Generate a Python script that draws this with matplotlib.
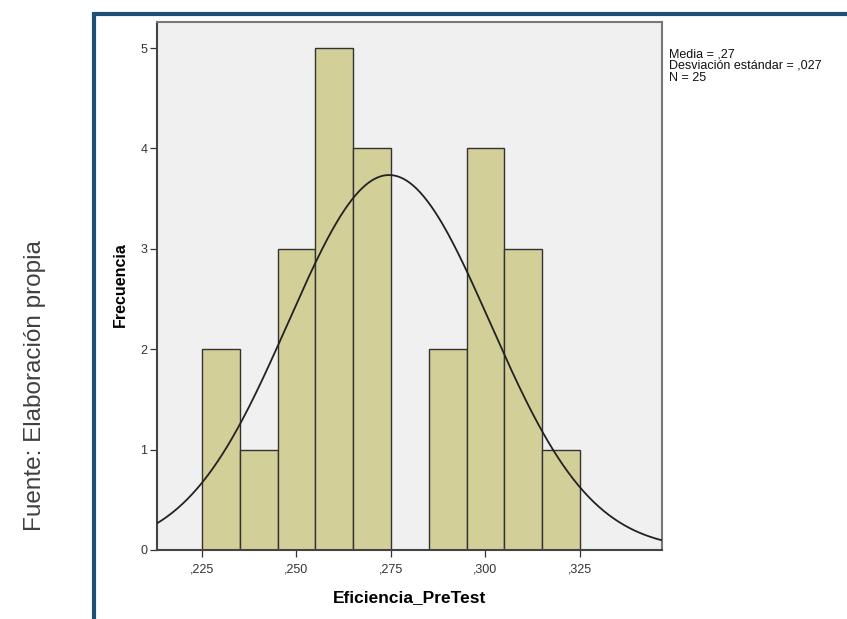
import numpy as np
import matplotlib
matplotlib.use("Agg")
import matplotlib.pyplot as plt
from matplotlib.lines import Line2D
from matplotlib.ticker import FuncFormatter

plt.rcParams['font.family'] = ['Liberation Sans', 'DejaVu Sans']

# histogram data (bin width 0.01)
bin_left = [0.225, 0.235, 0.245, 0.255, 0.265, 0.275, 0.285, 0.295, 0.305, 0.315]
counts = [2, 1, 3, 5, 4, 0, 2, 4, 3, 1]
bin_width = 0.01
x_ticks = [0.225, 0.250, 0.275, 0.300, 0.325]
y_ticks = [0, 1, 2, 3, 4, 5]

# summary of the sample, used for the normal curve
media = 0.2745
desv = 0.0267
n = 25

fig = plt.figure(figsize=(8.47, 6.19), dpi=100)
W, H = 847, 619
ax = fig.add_axes([157 / W, 1 - 550 / H, (662 - 157) / W, (550 - 22) / H])
ax.set_facecolor('#F0F0F0')

ax.bar(bin_left, counts, width=bin_width, align='edge', color='#D3CF98',
       edgecolor='#333333', linewidth=1.0, zorder=2)

xs = np.linspace(0.2131, 0.3467, 400)
ys = n * bin_width / (desv * np.sqrt(2 * np.pi)) * np.exp(-0.5 * ((xs - media) / desv) ** 2)
ax.plot(xs, ys, color='#222222', linewidth=1.3, zorder=3)

ax.set_xlim(0.2131, 0.3467)
ax.set_ylim(0, 5.26)
ax.set_xticks(x_ticks)
ax.set_yticks(y_ticks)
ax.xaxis.set_major_formatter(FuncFormatter(lambda v, p: ('%.3f' % v).lstrip('0').replace('.', ',')))
ax.tick_params(axis='both', labelsize=9, colors='#333333', length=5, width=0.9)
ax.tick_params(axis='x', pad=5)
ax.tick_params(axis='y', pad=2)

for s in ax.spines.values():
    s.set_color('#777777')
    s.set_linewidth(1.5)
ax.spines['bottom'].set_color('#444444')
ax.spines['left'].set_color('#444444')
ax.spines['bottom'].set_zorder(4)

ax.set_xlabel('Eficiencia_PreTest', fontsize=12.5, fontweight='bold', labelpad=10)
ax.set_ylabel('Frecuencia', fontsize=11.5, fontweight='bold', labelpad=8)
ax.yaxis.set_label_coords(-0.057, 0.502)

fig.text(669 / W, 1 - 66 / H,
         'Media = ,27\nDesviación estándar = ,027\nN = 25',
         fontsize=9, color='#111111', va='center', ha='left', linespacing=0.95)

fig.text(35 / W, 1 - 386 / H, 'Fuente: Elaboración propia', rotation=90,
         fontsize=17.5, color='#404040', ha='center', va='center')

# blue frame lines
fig.add_artist(Line2D([93.5 / W, 1.0], [1 - 13.5 / H, 1 - 13.5 / H],
                      color='#1F4E79', linewidth=3, solid_capstyle='butt'))
fig.add_artist(Line2D([93.5 / W, 93.5 / W], [1 - 12 / H, 0],
                      color='#1F4E79', linewidth=3, solid_capstyle='butt'))

fig.savefig('out.png', dpi=100)
